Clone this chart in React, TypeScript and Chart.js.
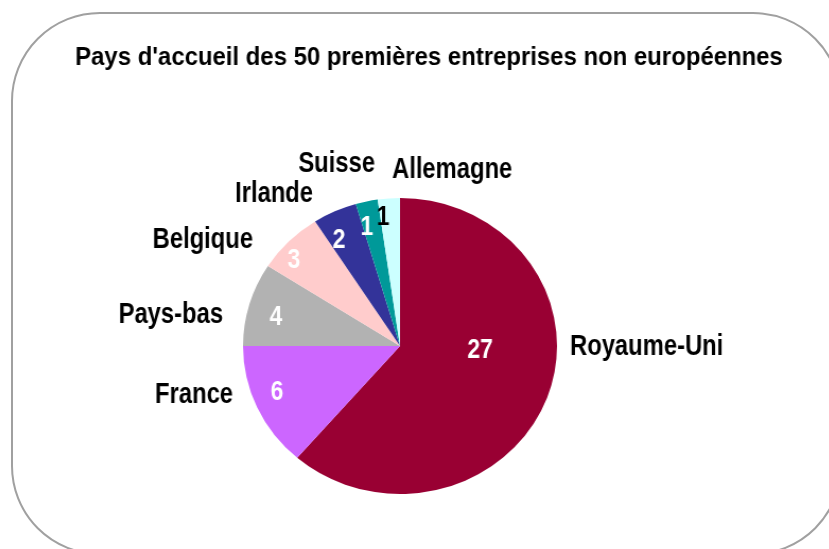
import React, { useEffect, useRef } from "react";
import { Chart, registerables } from "chart.js";

Chart.register(...registerables);

const TITLE = "Pays d'accueil des 50 premières entreprises non européennes";
const categories = ["Royaume-Uni", "France", "Pays-bas", "Belgique", "Irlande", "Suisse", "Allemagne"];
const values = [27, 6, 4, 3, 2, 1, 1];
const colors = ["#990033", "#CC66FF", "#B2B2B2", "#FFCCCC", "#333399", "#009999", "#CCFFFF"];
const valueColors = ["#FFFFFF", "#FFFFFF", "#FFFFFF", "#FFFFFF", "#FFFFFF", "#FFFFFF", "#000000"];

// label placement relative to pie centre (screen px, alphabetic baseline)
const nameOffsets: [number, number, CanvasTextAlign][] = [
  [170, 9, "left"],
  [-167, 57, "right"],
  [-177, -23, "right"],
  [-147, -98, "right"],
  [-87, -144, "right"],
  [-25, -174, "right"],
  [-8, -168, "left"],
];
const valueOffsets: [number, number][] = [
  [80, 12],
  [-123, 54],
  [-124, -21],
  [-106, -78],
  [-61, -98],
  [-33, -111],
  [-17, -121],
];

const STRETCH = 157 / 148;
const NARROW = 0.82;
const TITLE_NARROW = 0.92;
const FONT = '"Liberation Sans", Arial, sans-serif';

export default function App() {
  const ref = useRef<HTMLCanvasElement | null>(null);

  useEffect(() => {
    const canvas = ref.current;
    if (!canvas) return;
    const labelPlugin = {
      id: "pieLabels",
      afterDraw(chart: any) {
        const ctx = chart.ctx as CanvasRenderingContext2D;
        const meta = chart.getDatasetMeta(0);
        const arc = meta.data[0] as any;
        const cx = arc.x;
        const cy = arc.y;
        const drawText = (
          text: string,
          sx: number,
          sy: number,
          align: CanvasTextAlign,
          color: string,
          size: number,
          narrow: number
        ) => {
          ctx.save();
          ctx.translate(sx, sy);
          ctx.scale(narrow / STRETCH, 1);
          ctx.font = `bold ${size}px ${FONT}`;
          ctx.fillStyle = color;
          ctx.textAlign = align;
          ctx.textBaseline = "alphabetic";
          ctx.fillText(text, 0, 0);
          ctx.restore();
        };
        drawText(TITLE, cx + (429 - 400) / STRETCH, cy - 281, "center", "#000000", 26, TITLE_NARROW);
        categories.forEach((c, i) => {
          const [dx, dy, al] = nameOffsets[i];
          drawText(c, cx + dx / STRETCH, cy + dy, al, "#000000", 29, NARROW);
          const [vx, vy] = valueOffsets[i];
          drawText(String(values[i]), cx + vx / STRETCH, cy + vy, "center", valueColors[i], 28, NARROW);
        });
      },
    };
    const chart = new Chart(canvas, {
      type: "pie",
      data: {
        labels: categories,
        datasets: [
          {
            data: values,
            backgroundColor: colors,
            borderWidth: 0,
            hoverOffset: 0,
          },
        ],
      },
      options: {
        responsive: false,
        maintainAspectRatio: false,
        animation: false,
        events: [],
        layout: { padding: { top: 198, bottom: 55, left: 100, right: 129 } },
        plugins: {
          legend: { display: false },
          tooltip: { enabled: false },
          title: { display: false },
        },
      },
      plugins: [labelPlugin],
    });
    return () => chart.destroy();
  }, []);

  return (
    <div
      style={{
        position: "fixed",
        left: 0,
        top: 0,
        width: 829,
        height: 549,
        overflow: "hidden",
        background: "#ffffff",
      }}
    >
      <div
        style={{
          position: "absolute",
          left: 11,
          top: 12,
          width: 831,
          height: 543,
          boxSizing: "border-box",
          border: "2px solid #a0a0a0",
          borderRadius: 89,
        }}
      />
      <div
        style={{
          position: "absolute",
          left: 0,
          top: 0,
          width: 829,
          height: 549,
          transform: `scaleX(${STRETCH})`,
          transformOrigin: "400px 0px",
        }}
      >
        <canvas ref={ref} width={829} height={549} style={{ width: 829, height: 549, display: "block" }} />
      </div>
    </div>
  );
}
